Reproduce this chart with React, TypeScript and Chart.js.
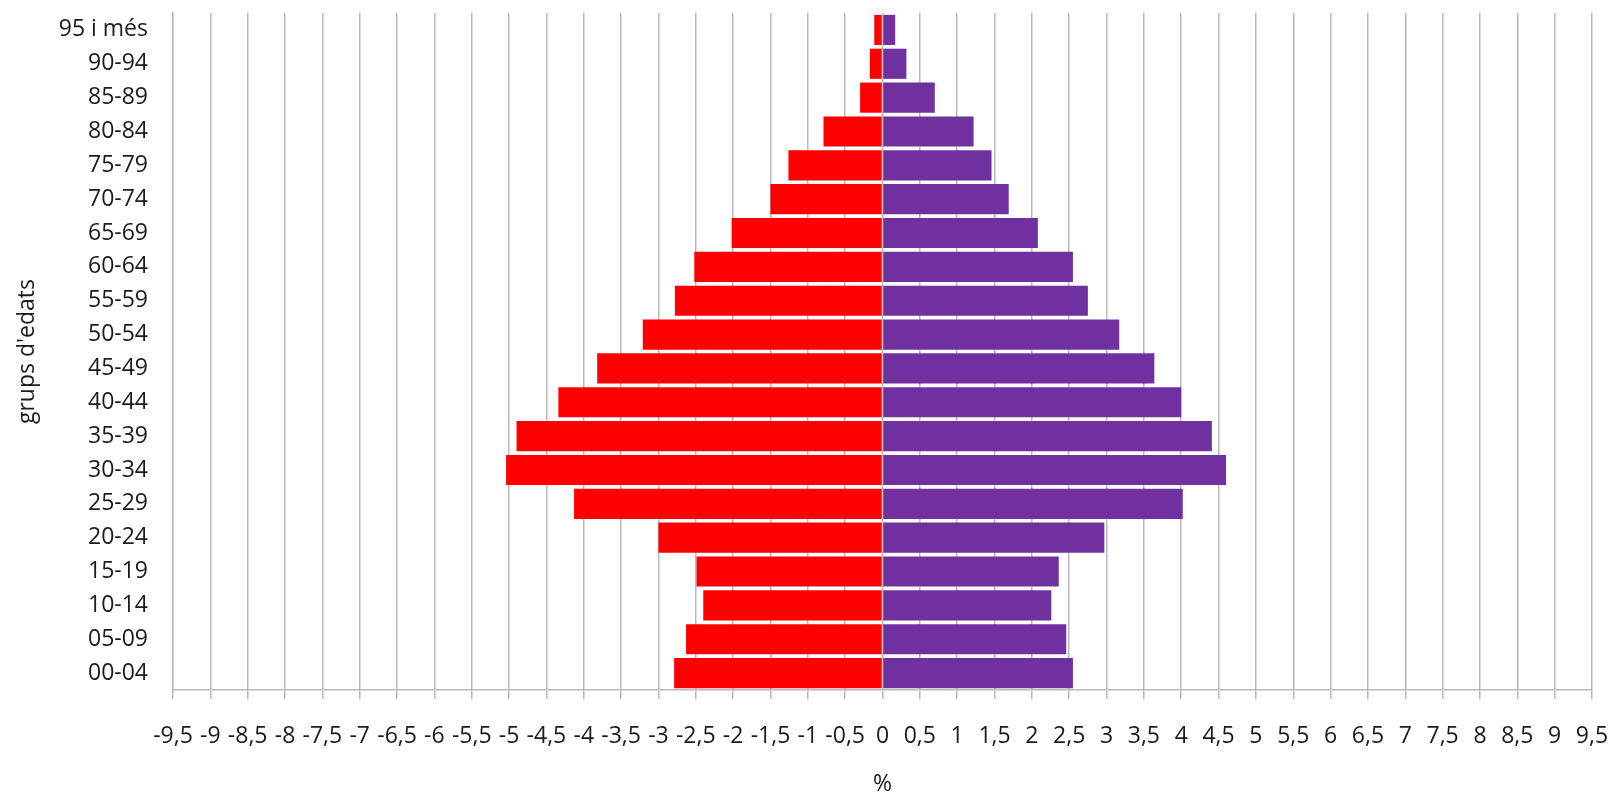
import React, { useEffect, useRef } from 'react';
import { Chart, registerables } from 'chart.js';

Chart.register(...registerables);

// Age groups, bottom (index 0) to top
const ageGroups = [
  '00-04', '05-09', '10-14', '15-19', '20-24', '25-29', '30-34', '35-39',
  '40-44', '45-49', '50-54', '55-59', '60-64', '65-69', '70-74', '75-79',
  '80-84', '85-89', '90-94', '95 i més',
];

// Left side (red), percentages plotted as negative values
const homes = [
  -2.79, -2.63, -2.40, -2.49, -3.00, -4.13, -5.04, -4.90,
  -4.34, -3.82, -3.21, -2.78, -2.52, -2.02, -1.50, -1.26,
  -0.79, -0.30, -0.17, -0.11,
];

// Right side (purple)
const dones = [
  2.55, 2.46, 2.26, 2.36, 2.97, 4.02, 4.60, 4.41,
  4.00, 3.64, 3.17, 2.75, 2.55, 2.08, 1.69, 1.46,
  1.22, 0.70, 0.32, 0.17,
];

const xMin = -9.5;
const xMax = 9.5;
const xStep = 0.5;

const xTitle = '%';
const yTitle = "grups d'edats";

const FONT = "'Open Sans', 'DejaVu Sans', sans-serif";
const TEXT = '#1a1a1a';
const GRID = '#b9b9b9';

export default function App() {
  const ref = useRef<HTMLCanvasElement | null>(null);

  useEffect(() => {
    document.body.style.margin = '0';
    const canvas = ref.current;
    if (!canvas) return;
    const chart = new Chart(canvas, {
      type: 'bar',
      data: {
        labels: ageGroups,
        datasets: [
          {
            label: 'Homes',
            data: homes,
            backgroundColor: '#ff0000',
            borderWidth: 0,
            categoryPercentage: 1,
            barPercentage: 0.89,
          },
          {
            label: 'Dones',
            data: dones,
            backgroundColor: '#7030a0',
            borderWidth: 0,
            categoryPercentage: 1,
            barPercentage: 0.89,
          },
        ],
      },
      options: {
        indexAxis: 'y',
        responsive: false,
        animation: false,
        layout: { padding: { top: 13, right: 22, left: 0, bottom: 0 } },
        plugins: {
          legend: { display: false },
          tooltip: { enabled: false },
        },
        scales: {
          x: {
            type: 'linear',
            stacked: true,
            min: xMin,
            max: xMax,
            afterFit: (scale: any) => {
              scale.height = 105;
              scale.paddingLeft = 0;
              scale.paddingRight = 0;
            },
            grid: {
              color: GRID,
              lineWidth: 1.5,
              drawTicks: true,
              tickLength: 9,
            },
            border: { display: true, color: GRID, width: 1.5 },
            ticks: {
              stepSize: xStep,
              autoSkip: false,
              maxRotation: 0,
              minRotation: 0,
              padding: 24,
              color: TEXT,
              font: { family: FONT, size: 23 },
              callback: (v: any) => String(Math.round(Number(v) * 10) / 10).replace('.', ','),
            },
            title: {
              display: true,
              text: xTitle,
              color: TEXT,
              font: { family: FONT, size: 23, lineHeight: 0.9 },
              padding: { top: 0, bottom: 0 },
            },
          },
          y: {
            type: 'category',
            stacked: true,
            reverse: true,
            afterFit: (scale: any) => {
              scale.width = 173;
              scale.paddingTop = 0;
              scale.paddingBottom = 0;
            },
            grid: { display: false, drawTicks: false },
            border: { display: true, color: GRID, width: 1.5 },
            ticks: {
              padding: 25,
              color: TEXT,
              font: { family: FONT, size: 23 },
            },
            title: {
              display: true,
              text: yTitle,
              color: TEXT,
              font: { family: FONT, size: 23 },
              padding: { top: 14, bottom: 0 },
            },
          },
        },
      },
    });
    return () => chart.destroy();
  }, []);

  return (
    <div style={{ width: 1614, height: 795, background: '#ffffff' }}>
      <canvas ref={ref} width={1614} height={795} style={{ display: 'block' }} />
    </div>
  );
}
